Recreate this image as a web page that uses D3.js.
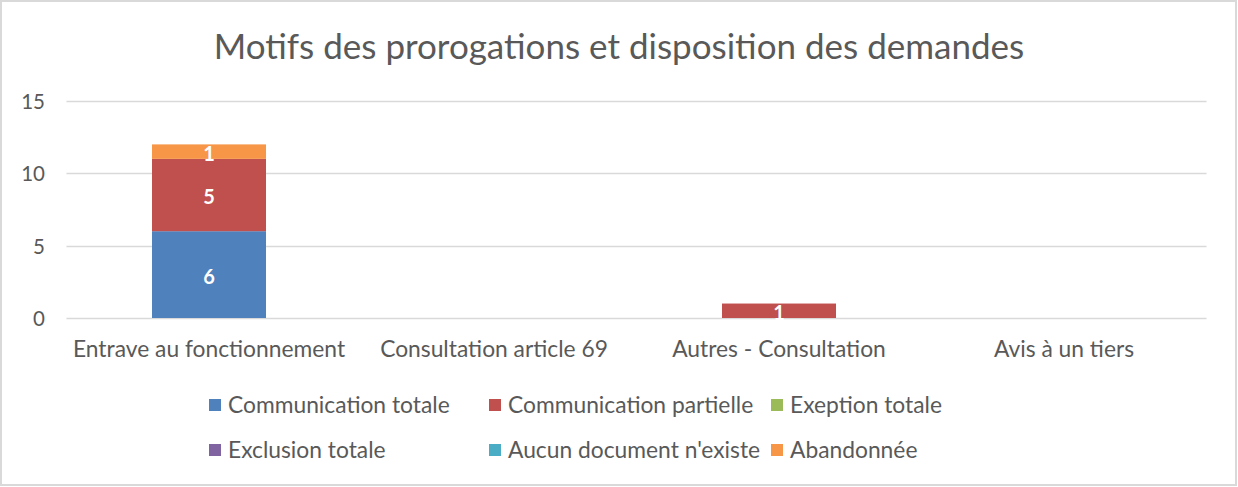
<!DOCTYPE html>
<html><head><meta charset="utf-8">
<script src="https://cdn.jsdelivr.net/npm/d3@7"></script>
<style>
html,body{margin:0;padding:0;background:#fff;}
svg text{font-family:Lato,"Open Sans",sans-serif;}
</style></head>
<body><svg id="c" width="1238" height="487"></svg>
<script>
const categories = ["Entrave au fonctionnement","Consultation article 69","Autres - Consultation","Avis à un tiers"];
const seriesNames = ["Communication totale","Communication partielle","Exeption totale","Exclusion totale","Aucun document n'existe","Abandonnée"];
const communicationTotale = [6,0,0,0];
const communicationPartielle = [5,0,1,0];
const exeptionTotale = [0,0,0,0];
const exclusionTotale = [0,0,0,0];
const aucunDocument = [0,0,0,0];
const abandonnee = [1,0,0,0];
const yTicks = [0,5,10,15];
const colors = ["#4f81bd","#c0504d","#9bbb59","#8064a2","#4bacc6","#f79646"];
const title = "Motifs des prorogations et disposition des demandes";

const seriesValues = [communicationTotale,communicationPartielle,exeptionTotale,exclusionTotale,aucunDocument,abandonnee];
const rows = categories.map((c,i)=>{const o={cat:c};seriesNames.forEach((s,j)=>o[s]=seriesValues[j][i]);return o;});
const stacked = d3.stack().keys(seriesNames)(rows);

const svg = d3.select("#c");
svg.append("rect").attr("x",1).attr("y",1).attr("width",1235).attr("height",484)
  .attr("fill","#fff").attr("stroke","#d9d9d9").attr("stroke-width",2);

svg.append("text").attr("x",619).attr("y",59).attr("text-anchor","middle")
  .attr("font-size",35).attr("fill","#595959").text(title);

const x = d3.scaleBand().domain(categories).range([66.5,1206.5]).paddingInner(0.6).paddingOuter(0.3);
const y = d3.scaleLinear().domain([0,15]).range([318,101]);

const grid = svg.append("g");
grid.selectAll("line").data(yTicks).join("line")
  .attr("x1",66.5).attr("x2",1206.5)
  .attr("y1",d=>Math.round(y(d))+0.5).attr("y2",d=>Math.round(y(d))+0.5)
  .attr("stroke","#d9d9d9").attr("stroke-width",1.5);

const yAxis = svg.append("g").attr("transform","translate(54,0)")
  .call(d3.axisLeft(y).tickValues(yTicks).tickSize(0).tickPadding(0));
yAxis.select(".domain").remove();
yAxis.selectAll("text").attr("font-size",20.5).attr("fill","#595959").attr("font-family","Lato").attr("dx",-9).attr("dy","0.36em");

const xAxis = svg.append("g").attr("transform","translate(0,318)")
  .call(d3.axisBottom(x).tickSize(0).tickPadding(0));
xAxis.select(".domain").remove();
xAxis.selectAll("text").attr("font-size",22.8).attr("fill","#595959").attr("font-family","Lato").attr("y",39).attr("dy",0);

const layers = svg.append("g").selectAll("g").data(stacked).join("g").attr("fill",(d,i)=>colors[i]);
layers.selectAll("rect").data(d=>d.map(p=>({p,cat:p.data.cat}))).join("rect")
  .attr("x",d=>x(d.cat)).attr("width",x.bandwidth())
  .attr("y",d=>y(d.p[1])).attr("height",d=>y(d.p[0])-y(d.p[1]));

const labels = [];
stacked.forEach(s=>s.forEach(p=>{const v=p[1]-p[0]; if(v>0) labels.push({cat:p.data.cat,v,mid:(p[0]+p[1])/2});}));
svg.append("g").selectAll("text").data(labels).join("text")
  .attr("x",d=>x(d.cat)+x.bandwidth()/2).attr("y",d=>y(d.mid)).attr("dy","0.45em")
  .attr("text-anchor","middle").attr("font-size",20).attr("font-weight","bold").attr("fill","#fff")
  .text(d=>d.v);

const legend = svg.append("g");
const legCols = [209,489,771], legRows = [405,450];
const li = legend.selectAll("g").data(seriesNames).join("g")
  .attr("transform",(d,i)=>`translate(${legCols[i%3]},${legRows[Math.floor(i/3)]})`);
li.append("rect").attr("x",0).attr("y",-6).attr("width",12).attr("height",12).attr("fill",(d,i)=>colors[i]);
li.append("text").attr("x",19).attr("dy","0.36em").attr("font-size",22.8).attr("fill","#595959").text(d=>d);
</script></body></html>
